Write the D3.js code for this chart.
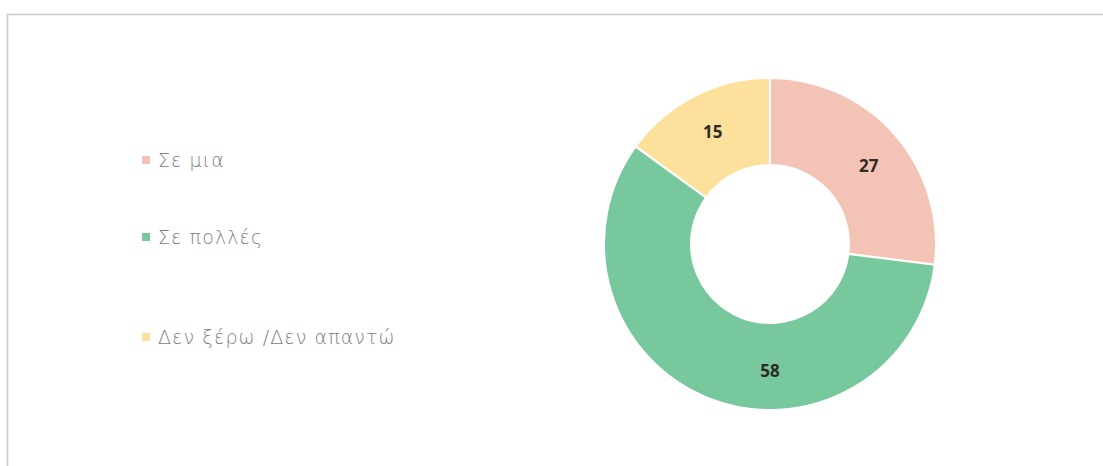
<!DOCTYPE html>
<html>
<head>
<meta charset="utf-8">
<script src="https://cdn.jsdelivr.net/npm/d3@7"></script>
<style>
  html, body { margin: 0; padding: 0; background: #fff; }
  svg { display: block; }
</style>
</head>
<body>
<svg id="chart" width="1103" height="466"></svg>
<script>
// Answer categories, their counts and slice colours
const categories = ["Σε μια", "Σε πολλές", "Δεν ξέρω /Δεν απαντώ"];
const values = [27, 58, 15];
const colors = ["#f3c4b6", "#78c89d", "#fde09c"];
// Angular shift (degrees) applied to each value label around the ring
const labelShift = [3, -21.6, 0];

const W = 1103, H = 466;
const svg = d3.select("#chart");

// Frame lines (top and left edges)
svg.append("path")
  .attr("d", `M7.5,${H} L7.5,14.5 L${W},14.5`)
  .attr("fill", "none")
  .attr("stroke", "#c9c9c9")
  .attr("stroke-width", 1.6);

// Donut
const cx = 770, cy = 244, outerR = 166, innerR = 79, labelR = 126;
const pie = d3.pie().sort(null).value(d => d)(values);
const arc = d3.arc().innerRadius(innerR).outerRadius(outerR);

const g = svg.append("g").attr("transform", `translate(${cx},${cy})`);
g.selectAll("path.slice")
  .data(pie)
  .join("path")
  .attr("class", "slice")
  .attr("d", arc)
  .attr("fill", (d, i) => colors[i])
  .attr("stroke", "#fff")
  .attr("stroke-width", 2);

const labelPos = (d, i) => {
  const a = (d.startAngle + d.endAngle) / 2 + labelShift[i] * Math.PI / 180;
  return [labelR * Math.sin(a), -labelR * Math.cos(a)];
};
g.selectAll("text.value")
  .data(pie)
  .join("text")
  .attr("class", "value")
  .attr("x", (d, i) => labelPos(d, i)[0])
  .attr("y", (d, i) => labelPos(d, i)[1])
  .attr("text-anchor", "middle")
  .attr("dominant-baseline", "central")
  .attr("font-family", "'Open Sans', sans-serif")
  .attr("font-weight", 700)
  .attr("font-size", 17)
  .attr("fill", "#2e2a28")
  .text(d => d.data);

// Legend
const legendY = d3.scaleOrdinal().domain(categories).range([160, 237, 337]);
const item = svg.append("g").selectAll("g.item")
  .data(categories)
  .join("g")
  .attr("class", "item")
  .attr("transform", d => `translate(142,${legendY(d)})`);
item.append("rect")
  .attr("x", 0).attr("y", -4)
  .attr("width", 8).attr("height", 8)
  .attr("fill", (d, i) => colors[i]);
item.append("text")
  .attr("x", 16)
  .attr("y", 0)
  .attr("dominant-baseline", "central")
  .attr("font-family", "'DejaVu Sans', sans-serif")
  .attr("font-weight", 300)
  .attr("font-size", 19)
  .attr("letter-spacing", 1.1)
  .attr("fill", "#7c7c7c")
  .text(d => d);
</script>
</body>
</html>
